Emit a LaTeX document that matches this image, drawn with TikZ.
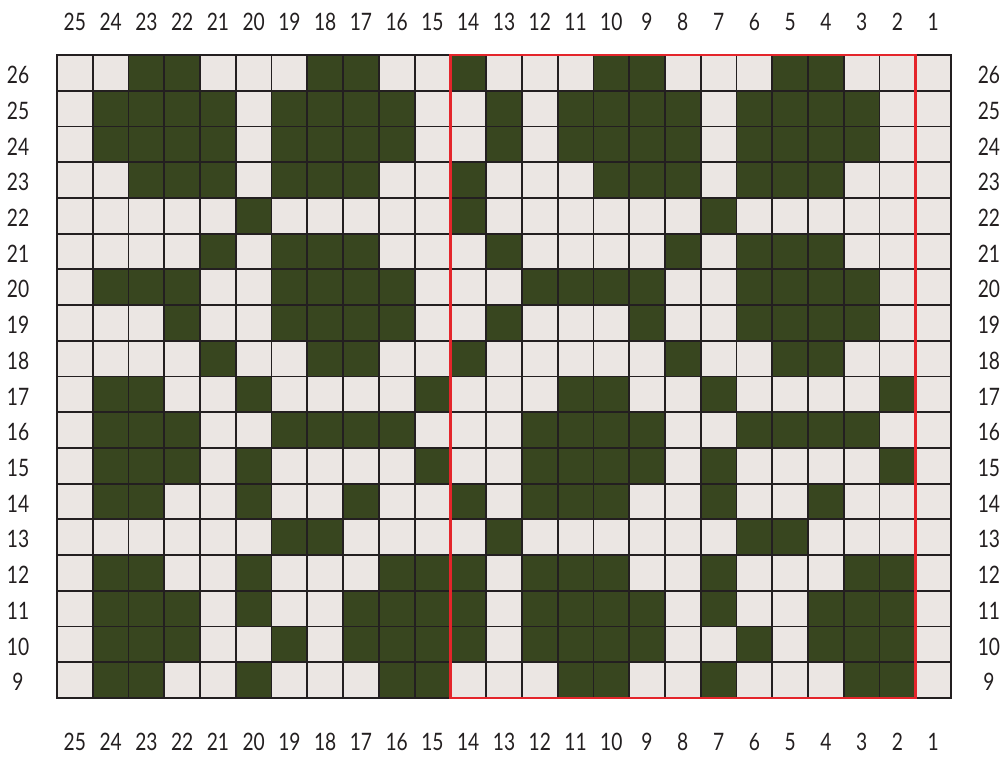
\documentclass[tikz,border=0pt]{standalone}
\usepackage{fontspec}
\setmainfont{Lato}[FakeStretch=0.8]
\definecolor{lightyarn}{HTML}{EBE6E3}
\definecolor{darkyarn}{HTML}{38461F}
\definecolor{gridink}{HTML}{231F20}
\definecolor{repeatred}{HTML}{E4252B}
\newcommand{\chartfont}{\fontsize{24}{24}\selectfont}

\begin{document}
\begin{tikzpicture}[x=1pt, y=-1pt,
    gridrule/.style={draw=gridink, line width=1.8pt},
    frame/.style={draw=gridink, line width=2.6pt},
    repeatbox/.style={draw=repeatred, line width=2.6pt},
    numlbl/.style={font=\chartfont, text=gridink, inner sep=0pt}
]
\useasboundingbox (0,0) rectangle (1001,756);

\begin{scope}[shift={(57pt,-55pt)}, x=35.76pt, y=-35.72pt]
  % background stitches
  \fill[lightyarn] (0,0) rectangle (25,18);
  % contrast stitches, row / columns
  \foreach \row/\cols in {
      26/{23,22,18,17,14,10,9,5,4},
      25/{24,23,22,21,19,18,17,16,13,11,10,9,8,6,5,4,3},
      24/{24,23,22,21,19,18,17,16,13,11,10,9,8,6,5,4,3},
      23/{23,22,21,19,18,17,14,10,9,8,6,5,4},
      22/{20,14,7},
      21/{21,19,18,17,13,8,6,5,4},
      20/{24,23,22,19,18,17,16,12,11,10,9,6,5,4,3},
      19/{22,19,18,17,16,13,9,6,5,4,3},
      18/{21,18,17,14,8,5,4},
      17/{24,23,20,15,11,10,7,2},
      16/{24,23,22,19,18,17,16,12,11,10,9,6,5,4,3},
      15/{24,23,22,20,15,12,11,10,9,7,2},
      14/{24,23,20,17,14,12,11,10,7,4},
      13/{19,18,13,6,5},
      12/{24,23,20,16,15,14,12,11,10,7,3,2},
      11/{24,23,22,20,17,16,15,14,12,11,10,9,7,4,3,2},
      10/{24,23,22,19,17,16,15,14,12,11,10,9,6,4,3,2},
      9/{24,23,20,16,15,11,10,7,3,2}}
    \foreach \c in \cols
      \fill[darkyarn] (25-\c,26-\row) rectangle (26-\c,27-\row);

  % grid
  \foreach \i in {1,...,24}
    \draw[gridrule] (\i,0) -- (\i,18);
  \foreach \j in {1,...,17}
    \draw[gridrule] (0,\j) -- (25,\j);
  \draw[frame] (0,0) rectangle (25,18);

  % pattern repeat
  \draw[repeatbox] (11,0) rectangle (24,18);

  % stitch and row numbers
  \foreach \c in {1,...,25} {
    \node[numlbl] (top\c) at (25.5-\c,-0.92) {\c};
    \node[numlbl] (bot\c) at (25.5-\c,19.23) {\c};
  }
  \foreach \r in {9,...,26} {
    \node[numlbl] (left\r) at (-1.09,26.56-\r) {\r};
    \node[numlbl] (right\r) at (26.06,26.56-\r) {\r};
  }
\end{scope}
\end{tikzpicture}
\end{document}
